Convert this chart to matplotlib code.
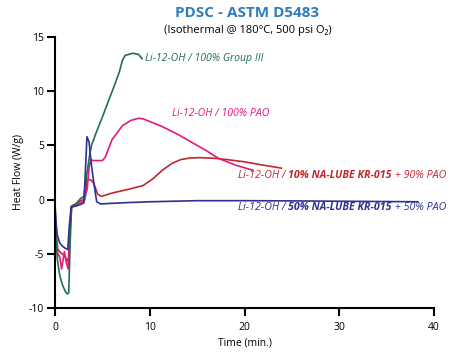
import matplotlib
matplotlib.use("Agg")
import matplotlib.pyplot as plt

# ---- data ----
t_green = [0, 0.1, 0.25, 0.5, 0.8, 1.1, 1.3, 1.45, 1.6, 1.75, 2.2, 2.7, 3.05, 3.3, 3.6, 3.85, 4.4, 4.95, 5.6, 6.3, 6.8, 7.1, 7.4, 8.2, 8.8, 9.2]
y_green = [-0.5, -3.5, -5.5, -7.0, -7.9, -8.5, -8.7, -8.6, -4.0, -0.6, -0.4, 0.1, 0.3, 2.0, 3.8, 5.0, 6.3, 7.5, 9.0, 10.6, 11.8, 12.8, 13.3, 13.5, 13.4, 13.0]

t_pink = [0, 0.1, 0.3, 0.5, 0.7, 0.8, 1.0, 1.2, 1.4, 1.55, 1.75, 2.2, 2.7, 3.1, 3.4, 3.6, 3.8, 4.0, 4.5, 5.0, 5.3, 6.0, 7.1, 8.0, 8.8, 9.3, 10.3, 11.4, 13.0, 14.6, 16.0, 17.25, 19.0, 20.9]
y_pink = [-0.5, -3.5, -5.0, -5.3, -6.4, -5.8, -4.8, -5.8, -6.4, -3.5, -0.7, -0.5, -0.3, -0.1, 1.0, 3.0, 3.7, 3.6, 3.6, 3.6, 3.9, 5.5, 6.8, 7.3, 7.5, 7.45, 7.1, 6.7, 6.0, 5.2, 4.5, 3.8, 3.2, 2.7]

t_red = [0, 0.1, 0.3, 0.6, 0.9, 1.2, 1.4, 1.55, 1.75, 2.2, 2.7, 3.0, 3.2, 3.4, 3.8, 4.1, 4.5, 4.9, 6.0, 8.0, 9.3, 10.3, 11.4, 12.35, 13.3, 14.3, 15.3, 17.1, 19.9, 21.5, 23.9]
y_red = [-0.5, -3.0, -4.6, -4.9, -5.1, -5.5, -5.7, -3.0, -0.6, -0.4, -0.1, 0.0, 0.6, 1.9, 1.8, 1.5, 0.5, 0.3, 0.6, 1.0, 1.3, 1.9, 2.76, 3.34, 3.7, 3.84, 3.87, 3.8, 3.5, 3.25, 2.9]

t_blue = [0, 0.1, 0.25, 0.5, 0.8, 1.1, 1.35, 1.5, 1.7, 2.2, 2.7, 3.05, 3.2, 3.37, 3.6, 3.8, 4.1, 4.4, 4.8, 7, 10, 15, 20, 25, 30, 35, 38.3]
y_blue = [-0.5, -2.0, -3.3, -4.0, -4.3, -4.5, -4.6, -2.5, -0.7, -0.6, -0.45, -0.3, 2.5, 5.8, 5.3, 3.5, 1.5, -0.2, -0.4, -0.3, -0.2, -0.1, -0.1, -0.12, -0.15, -0.18, -0.2]

x_ticks = [0, 10, 20, 30, 40]
y_ticks = [-10, -5, 0, 5, 10, 15]

C_GREEN = "#24704a"
C_PINK = "#e2197f"
C_RED = "#c1272d"
C_BLUE = "#2e3192"
C_TITLE = "#2f7bbf"

plt.rcParams['font.family'] = ['Open Sans', 'DejaVu Sans']

fig = plt.figure(figsize=(4.64, 3.55), dpi=100)
ax = fig.add_axes([55/464, 1-308/355, (434-55)/464, (308-37)/355])

lw = 1.2
ax.plot(t_red, y_red, color=C_RED, lw=lw)
ax.plot(t_pink, y_pink, color=C_PINK, lw=lw)
ax.plot(t_green, y_green, color=C_GREEN, lw=lw)
ax.plot(t_blue, y_blue, color=C_BLUE, lw=lw)

ax.set_xlim(0, 40)
ax.set_ylim(-10, 15)
ax.set_xticks(x_ticks)
ax.set_yticks(y_ticks)
ax.set_xticklabels([str(v) for v in x_ticks])
ax.set_yticklabels([str(v) for v in y_ticks])
for s in ['top', 'right']:
    ax.spines[s].set_visible(False)
for s in ['left', 'bottom']:
    ax.spines[s].set_linewidth(1.5)
ax.tick_params(axis='both', length=6, width=1.5, labelsize=7.5, pad=2)
ax.tick_params(axis='x', pad=4)

ax.set_xlabel("Time (min.)", fontsize=7.5, labelpad=3)
ax.set_ylabel("Heat Flow (W/g)", fontsize=7.5, labelpad=3)

fig.text(247/464, 1-13/355, "PDSC - ASTM D5483", ha='center', va='center',
         fontsize=11, fontweight='bold', color=C_TITLE)
fig.text(248/464, 1-31/355, "(Isothermal @ 180°C, 500 psi O₂)", ha='center', va='center',
         fontsize=8, color='black')

def rich_label(x_px, y_px, parts, color, fs):
    prev = fig.text(x_px/464, 1-y_px/355, parts[0][0], ha='left', va='center',
                    fontsize=fs, style='italic', fontweight=parts[0][1], color=color)
    for txt, wt in parts[1:]:
        prev = ax.annotate(txt, xy=(1, 0), xycoords=prev, ha='left', va='bottom',
                           fontsize=fs, style='italic', fontweight=wt, color=color)

rich_label(145, 58, [("Li-12-OH / 100% Group III", 'normal')], C_GREEN, 7.6)
rich_label(172, 113, [("Li-12-OH / 100% PAO", 'normal')], C_PINK, 7.6)
rich_label(238, 176, [("Li-12-OH / ", 'normal'), ("10% NA-LUBE KR-015", 'bold'), (" + 90% PAO", 'normal')], C_RED, 7.7)
rich_label(238, 208, [("Li-12-OH / ", 'normal'), ("50% NA-LUBE KR-015", 'bold'), (" + 50% PAO", 'normal')], C_BLUE, 7.7)

fig.savefig("out.png", dpi=100)
